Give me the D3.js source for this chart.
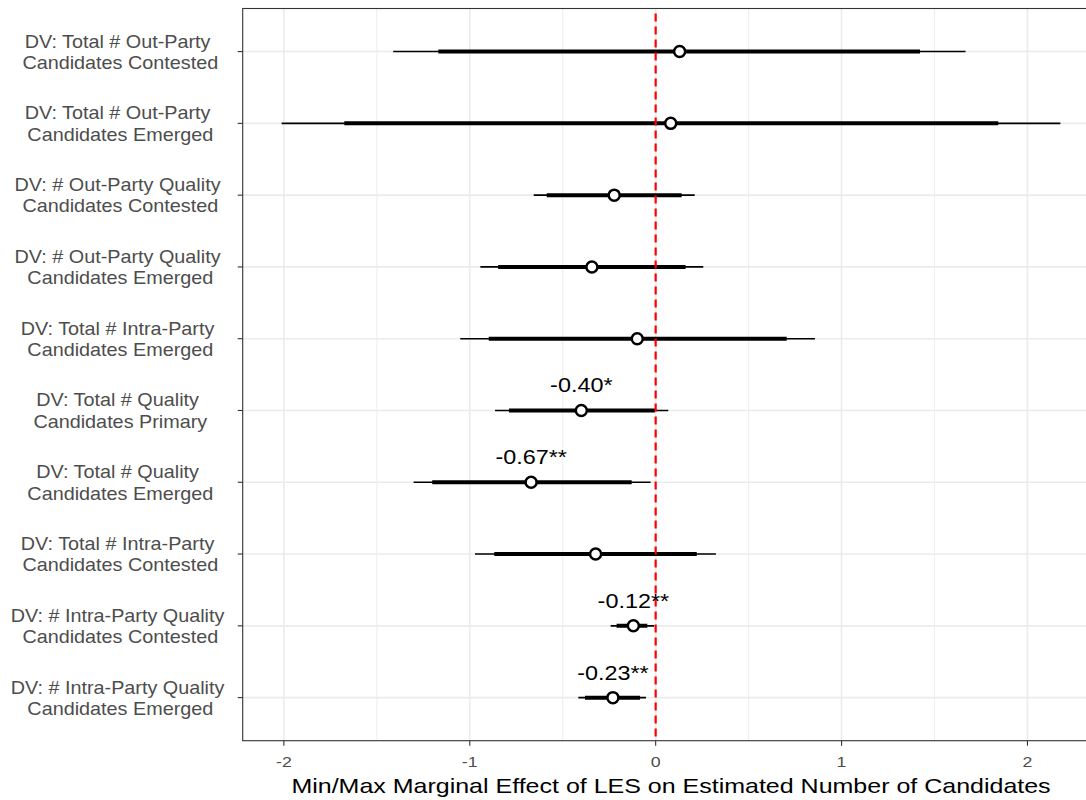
<!DOCTYPE html>
<html>
<head>
<meta charset="utf-8">
<script src="https://cdn.jsdelivr.net/npm/d3@7"></script>
<style>
  html, body { margin: 0; padding: 0; background: #ffffff; }
  svg { display: block; }
  text { font-family: "Liberation Sans", Arial, Helvetica, sans-serif; white-space: pre; }
</style>
</head>
<body>
<script>
// Outcome models (top to bottom), line break marks the wrapped label
const categories = [
  "DV: Total # Out-Party \nCandidates Contested",
  "DV: Total # Out-Party \nCandidates Emerged",
  "DV: # Out-Party Quality \nCandidates Contested",
  "DV: # Out-Party Quality \nCandidates Emerged",
  "DV: Total # Intra-Party \nCandidates Emerged",
  "DV: Total # Quality \nCandidates Primary",
  "DV: Total # Quality \nCandidates Emerged",
  "DV: Total # Intra-Party \nCandidates Contested",
  "DV: # Intra-Party Quality \nCandidates Contested",
  "DV: # Intra-Party Quality \nCandidates Emerged"
];

// Min/max marginal effect estimates
const estimate = [0.129, 0.081, -0.223, -0.343, -0.099, -0.40, -0.67, -0.323, -0.12, -0.23];

// Outer (thin) interval
const lowerOuter = [-1.412, -2.012, -0.656, -0.943, -1.051, -0.864, -1.302, -0.972, -0.242, -0.416];
const upperOuter = [1.667, 2.177, 0.210, 0.256, 0.857, 0.068, -0.027, 0.324, -0.008, -0.052];

// Inner (thick) interval
const lowerInner = [-1.169, -1.675, -0.586, -0.847, -0.898, -0.789, -1.202, -0.868, -0.210, -0.380];
const upperInner = [1.422, 1.843, 0.140, 0.161, 0.705, -0.004, -0.129, 0.221, -0.045, -0.084];

// Significance stars shown above selected estimates
const stars = ["", "", "", "", "", "*", "**", "", "**", "**"];

const xTickValues = [-2, -1, 0, 1, 2];
const xTitle = "Min/Max Marginal Effect of LES on Estimated Number of Candidates";

const rows = categories.map((c, i) => ({
  cat: c,
  est: estimate[i],
  lo95: lowerOuter[i], hi95: upperOuter[i],
  lo90: lowerInner[i], hi90: upperInner[i],
  stars: stars[i]
}));

const W = 1086, H = 800;
const panel = { left: 242.7, right: 1099.3, top: 8.5, bottom: 740.7 };

// plain hyphen-minus for negative numbers
const hyphen = s => s.replace("\u2212", "-");

const svg = d3.select("body").append("svg")
  .attr("width", W).attr("height", H)
  .attr("viewBox", `0 0 ${W} ${H}`);

// x domain: data extent plus 5% on each side
const ext = [d3.min(lowerOuter), d3.max(upperOuter)];
const pad = (ext[1] - ext[0]) * 0.05;
const x = d3.scaleLinear()
  .domain([ext[0] - pad, ext[1] + pad])
  .range([panel.left, panel.right]);

const y = d3.scalePoint()
  .domain(categories)
  .range([panel.top, panel.bottom])
  .padding(0.6);

// clip everything in the panel
svg.append("defs").append("clipPath").attr("id", "panel-clip")
  .append("rect")
  .attr("x", panel.left).attr("y", panel.top)
  .attr("width", panel.right - panel.left)
  .attr("height", panel.bottom - panel.top);

const g = svg.append("g").attr("clip-path", "url(#panel-clip)");

// grid: minor lines halfway between major ticks
const minorTicks = d3.pairs(xTickValues).map(([a, b]) => (a + b) / 2);
g.selectAll(".minor").data(minorTicks).join("line")
  .attr("x1", d => x(d)).attr("x2", d => x(d))
  .attr("y1", panel.top).attr("y2", panel.bottom)
  .attr("stroke", "#ebebeb").attr("stroke-width", 0.9);

g.selectAll(".major").data(xTickValues).join("line")
  .attr("x1", d => x(d)).attr("x2", d => x(d))
  .attr("y1", panel.top).attr("y2", panel.bottom)
  .attr("stroke", "#ebebeb").attr("stroke-width", 1.6);

g.selectAll(".hgrid").data(categories).join("line")
  .attr("x1", panel.left).attr("x2", panel.right)
  .attr("y1", d => y(d)).attr("y2", d => y(d))
  .attr("stroke", "#ebebeb").attr("stroke-width", 1.6);

// outer intervals
g.selectAll(".outer").data(rows).join("line")
  .attr("x1", d => x(d.lo95)).attr("x2", d => x(d.hi95))
  .attr("y1", d => y(d.cat)).attr("y2", d => y(d.cat))
  .attr("stroke", "#000").attr("stroke-width", 1.6);

// inner intervals
g.selectAll(".inner").data(rows).join("line")
  .attr("x1", d => x(d.lo90)).attr("x2", d => x(d.hi90))
  .attr("y1", d => y(d.cat)).attr("y2", d => y(d.cat))
  .attr("stroke", "#000").attr("stroke-width", 4);

// reference line at zero
g.append("line")
  .attr("x1", x(0)).attr("x2", x(0))
  .attr("y1", panel.top).attr("y2", panel.bottom)
  .attr("stroke", "#ff0000").attr("stroke-width", 2.2)
  .attr("stroke-dasharray", "8,5")
  .attr("stroke-dashoffset", -5);

// point estimates
g.selectAll(".pt").data(rows).join("circle")
  .attr("cx", d => x(d.est)).attr("cy", d => y(d.cat))
  .attr("r", 5.5)
  .attr("fill", "#fff").attr("stroke", "#000").attr("stroke-width", 2.5);

// value labels for significant effects
const fmt = d3.format(".2f");
g.selectAll(".lab").data(rows.filter(d => d.stars)).join("text")
  .attr("transform", d => `translate(${x(d.est)},${y(d.cat) - 18}) scale(1.2,1)`)
  .attr("text-anchor", "middle")
  .attr("font-size", 19.5)
  .attr("fill", "#000")
  .text(d => hyphen(fmt(d.est)) + d.stars);

// panel border
svg.append("rect")
  .attr("x", panel.left).attr("y", panel.top)
  .attr("width", panel.right - panel.left)
  .attr("height", panel.bottom - panel.top)
  .attr("fill", "none").attr("stroke", "#333").attr("stroke-width", 1.1);

// x axis ticks and labels
const xAxis = svg.append("g");
xAxis.selectAll("line").data(xTickValues).join("line")
  .attr("x1", d => x(d)).attr("x2", d => x(d))
  .attr("y1", panel.bottom).attr("y2", panel.bottom + 5)
  .attr("stroke", "#333").attr("stroke-width", 1.1);
xAxis.selectAll("text").data(xTickValues).join("text")
  .attr("transform", d => `translate(${x(d)},${766.5}) scale(1.2,1)`)
  .attr("text-anchor", "middle")
  .attr("font-size", 14.8)
  .attr("fill", "#4d4d4d")
  .text(d => hyphen(d3.format("d")(d)));

// y axis ticks and wrapped labels
const yAxis = svg.append("g");
yAxis.selectAll("line").data(categories).join("line")
  .attr("x1", panel.left - 5).attr("x2", panel.left)
  .attr("y1", d => y(d)).attr("y2", d => y(d))
  .attr("stroke", "#333").attr("stroke-width", 1.1);

const yLab = yAxis.selectAll("g.ylab").data(categories).join("g")
  .attr("class", "ylab");
yLab.each(function(d) {
  const lines = d.split("\n");
  const sel = d3.select(this);
  lines.forEach((ln, k) => {
    sel.append("text")
      .attr("transform", `translate(120.3,${y(d) - 4 + k * 21.3}) scale(1.1,1)`)
      .attr("text-anchor", "middle")
      .attr("font-size", 18)
      .attr("fill", "#4d4d4d")
      .text(ln);
  });
});

// x axis title
svg.append("text")
  .attr("transform", `translate(${(panel.left + panel.right) / 2},793) scale(1.19,1)`)
  .attr("text-anchor", "middle")
  .attr("font-size", 21)
  .attr("fill", "#000")
  .text(xTitle);
</script>
</body>
</html>
